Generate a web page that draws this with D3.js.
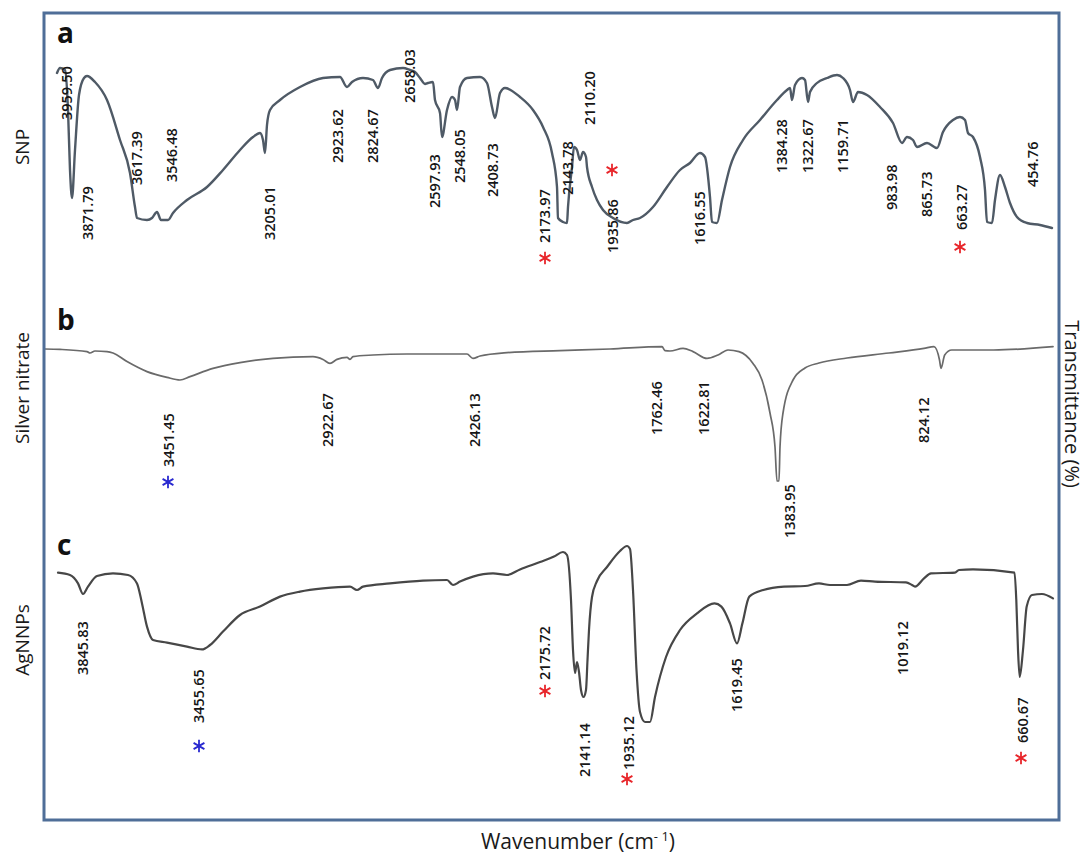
<!DOCTYPE html>
<html>
<head>
<meta charset="utf-8">
<script src="https://cdn.jsdelivr.net/npm/d3@7"></script>
<style>
  body { margin: 0; background: #fff; }
  svg { display: block; }
  text { font-family: "Open Sans", Lato, "Liberation Sans", sans-serif; }
</style>
</head>
<body>
<svg id="chart" width="1087" height="857"></svg>
<script>
// FTIR traces: [trace position, transmittance (arb. %)]
const snpTrace = [
  [12,88.5],[15,91],[20,90],[23,70],[25,40],[27,26],[30,50],[34,77.5],[39,86],[42,87],
  [50,84],[62,75],[75,55],[85,38.5],[90,21.5],[92,16],[102,15],[107,16],[112,19],[116,15],
  [123,15],[128,18.5],[142,25],[162,31.5],[178,40],[195,50],[208,56.5],[215,58.5],[218,55],[220,48.5],
  [222,62.5],[225,70],[235,75],[255,81.5],[278,86],[295,86.5],[302,81.5],[307,84],[318,86],[328,85],
  [333,81],[337,86],[345,90],[358,91],[365,90],[370,89],[375,86],[380,83],[383,83.5],[388,84],
  [390,75],[395,68.5],[397,56.5],[402,70],[407,76.5],[410,75],[412,70],[415,81.5],[422,86],[435,86.5],
  [442,83.5],[447,71.5],[450,66],[455,78.5],[460,81],[475,76.5],[488,70],[498,61.5],[507,48.5],[512,31.5],
  [513,16],[518,14],[522,13.5],[523,21.5],[527,41.5],[529,51.5],[532,50],[535,45],[538,49],[541,46.5],
  [542,41.5],[547,31.5],[552,25],[558,20],[568,16],[582,13.5],[588,15],[595,16],[608,21.5],[622,31.5],
  [635,40],[645,43.5],[655,48.5],[660,46.5],[665,26.5],[667,14],[672,13.5],[677,25],[685,41.5],[698,55],
  [715,65],[732,75],[742,80],[745,81],[747,75],[750,82.5],[757,86],[760,85],[763,74],[765,79],
  [772,83.5],[782,86],[792,87.5],[798,86],[805,80],[808,74],[813,79],[822,77.5],[835,71.5],[848,63.5],
  [857,53.5],[862,56.5],[868,55],[872,51.5],[882,53.5],[892,51],[898,59],[908,65],[915,66.5],[920,65],
  [923,58.5],[928,56.5],[935,46.5],[940,30],[942,14],[947,13.5],[950,25],[955,37.5],[960,31.5],[965,23.5],
  [972,16.5],[982,13.5],[995,12.5],[1007,11]
];

const silverNitrateTrace = [
  [0,75.5],[15,75.3],[42,74.2],[45,73.5],[50,74.5],[62,74.2],[68,73.5],[82,69.2],[102,64.2],[122,61.3],
  [135,60],[145,61.7],[168,65.8],[195,68.7],[228,70.8],[268,71.7],[278,70.3],[285,68.3],[292,70.3],[302,71.3],
  [305,70.3],[308,71.7],[328,72.5],[362,73],[422,73],[428,70.8],[435,72],[462,73.7],[515,74.7],[565,75.5],
  [617,76.7],[620,74.7],[625,74.5],[638,75.8],[648,74.2],[662,70.8],[673,72.5],[683,75],[694,74.2],[708,68.3],
  [717,60],[725,43.5],[730,26.5],[732,9.5],[734,9.5],[735,26.5],[738,43.5],[748,60],[760,66],[774,68.5],
  [802,71],[844,73.5],[879,75.8],[889,76.7],[894.5,70],[896,65.8],[899.7,72.5],[906.7,75],[948.6,75],[1008,76.7]
];

const agnpTrace = [
  [13,93.7],[25,92.5],[33,88.3],[38,83],[43,86.7],[52,92],[68,93.3],[83,92.5],[92,88.3],[97,78.3],
  [102,66.7],[108,60],[122,58.7],[142,56.7],[157,55.3],[165,57.5],[178,64.2],[195,72.5],[215,76.7],[235,81.7],
  [255,84.2],[278,85.8],[305,86.7],[312,85],[318,86.7],[345,88.3],[378,89.7],[402,90],[408,87.5],[415,89.2],
  [428,91.7],[448,93.3],[462,92.5],[475,95.3],[495,99],[509,101.7],[518,104],[522,102.5],[526,80],[528,55],
  [530,43.5],[532,49],[534,44],[536,35],[538.5,31.5],[541,35],[542.5,50],[544,65],[547,81.5],[552,89.5],
  [562,96.5],[575,104.5],[582,107],[585,105.5],[588,85],[591.5,45],[595,24],[600,19],[605,19],[610,31.5],
  [621,51.5],[635,65],[652,73.3],[669.5,78.3],[676.4,76.7],[685,68.3],[692,58.3],[697.4,68.3],[704.3,81.7],[718.3,85],
  [739,86.7],[760,87],[774,88.3],[785,87.5],[802,87.5],[816,89.7],[830,89.2],[861,88.8],[867,87.5],[870,86.7],
  [879,90.8],[886,93.3],[910,93.7],[914,95],[928,95.3],[969.5,93.7],[971.3,80],[973,55],[974.7,41.5],[978,55],
  [981.7,76.7],[987,82.5],[997,83],[1008,80.8]
];

// Peak annotations: [wavenumber label, trace position, level of label foot]
const snpPeaks = [
  ["3959.50",22,65],["3871.79",43,5],["3617.39",92,32.5],["3546.48",127,34],["3205.01",225,5],
  ["2923.62",293,43.5],["2824.67",328,43.5],["2658.03",365,73.5],["2597.93",390,21],["2548.05",415,33.5],
  ["2408.73",448,26.5],["2173.97",500,3.5],["2143.78",523,27.5],["2110.20",545,62.5],["1935.86",568,-1.5],
  ["1616.55",655,2.5],["1384.28",737,38.5],["1322.67",763,38.5],["1159.71",798,38.5],["983.98",847,20],
  ["865.73",882,16.5],["663.27",917,10],["454.76",988,31.5]
];
const silverNitratePeaks = [
  ["3451.45",124,16.5],["2922.67",283,26.5],["2426.13",430,26.5],["1762.46",612,32.5],
  ["1622.81",659,32.5],["1383.95",745,-19],["824.12",879,28.5]
];
const agnpPeaks = [
  ["3845.83",38,42.5],["3455.65",154,18.5],["2175.72",500,40],["2141.14",540,-8.5],
  ["1935.12",584,-5],["1619.45",692,24],["1019.12",858,42.5],["660.67",978,8.5]
];

// Band markers: [trace position, level, group]  (S = shared with SNP, A = shared with AgNO3)
const snpMarks = [[500,-4,"S"],[567,40,"S"],[915,1.5,"S"]];
const silverNitrateMarks = [[123,9,"A"]];
const agnpMarks = [[154,7,"A"],[500,34.5,"S"],[582,-9.5,"S"],[976,1,"S"]];

const svg = d3.select("#chart");
const W = 1087, H = 857;
svg.append("rect").attr("width", W).attr("height", H).attr("fill", "#fff");

const frame = { left: 44, top: 13, right: 1059, bottom: 820 };
const x = d3.scaleLinear().domain([0, 1010]).range([45, 1055]);

const panels = [
  { letter: "a", name: "SNP", trace: snpTrace, peaks: snpPeaks, marks: snpMarks,
    y: d3.scaleLinear().domain([0, 100]).range([250, 50]),
    color: "#4f5a66", width: 2.4, letterY: 43, nameY: 147 },
  { letter: "b", name: "Silver nitrate", trace: silverNitrateTrace, peaks: silverNitratePeaks, marks: silverNitrateMarks,
    y: d3.scaleLinear().domain([0, 100]).range([500, 300]),
    color: "#6a6a6a", width: 1.7, letterY: 330, nameY: 388 },
  { letter: "c", name: "AgNNPs", trace: agnpTrace, peaks: agnpPeaks, marks: agnpMarks,
    y: d3.scaleLinear().domain([0, 110]).range([760, 540]),
    color: "#474747", width: 2.2, letterY: 555, nameY: 640 }
];

const markColor = { S: "#e8262b", A: "#2a2ad0" };
const asterisk = d3.symbol().type(d3.symbolAsterisk || d3.symbolCross).size(110);

panels.forEach(p => {
  const g = svg.append("g").attr("class", "panel-" + p.letter);

  const line = d3.line()
    .x(d => x(d[0]))
    .y(d => p.y(d[1]))
    .curve(d3.curveMonotoneX);

  g.append("path")
    .datum(p.trace)
    .attr("d", line)
    .attr("fill", "none")
    .attr("stroke", p.color)
    .attr("stroke-width", p.width)
    .attr("stroke-linejoin", "round")
    .attr("stroke-linecap", "round");

  g.selectAll("text.peak")
    .data(p.peaks)
    .join("text")
    .attr("class", "peak")
    .attr("transform", d => `translate(${x(d[1])},${p.y(d[2])}) rotate(-90)`)
    .attr("dy", "0.36em")
    .attr("text-anchor", "start")
    .attr("font-size", 14.5)
    .attr("font-weight", 600)
    .attr("fill", "#161616")
    .text(d => d[0]);

  g.selectAll("path.mark")
    .data(p.marks)
    .join("path")
    .attr("class", "mark")
    .attr("transform", d => `translate(${x(d[0])},${p.y(d[1])})`)
    .attr("d", asterisk)
    .attr("fill", "none")
    .attr("stroke", d => markColor[d[2]])
    .attr("stroke-width", 1.8);

  // panel letter
  svg.append("text")
    .attr("x", 57).attr("y", p.letterY)
    .attr("font-size", 28).attr("font-weight", 700)
    .attr("fill", "#111")
    .text(p.letter);

  // sample name on the left
  svg.append("text")
    .attr("transform", `translate(22,${p.nameY}) rotate(-90)`)
    .attr("dy", "0.36em")
    .attr("text-anchor", "middle")
    .attr("font-size", 19)
    .attr("fill", "#1a1a1a")
    .text(p.name);
});

// frame
svg.append("rect")
  .attr("x", frame.left).attr("y", frame.top)
  .attr("width", frame.right - frame.left)
  .attr("height", frame.bottom - frame.top)
  .attr("fill", "none")
  .attr("stroke", "#4f6e98")
  .attr("stroke-width", 3);

// axis titles
svg.append("text")
  .attr("transform", "translate(1072,404) rotate(90)")
  .attr("dy", "0.33em")
  .attr("text-anchor", "middle")
  .attr("font-size", 20)
  .attr("fill", "#1a1a1a")
  .text("Transmittance (%)");

const xt = svg.append("text")
  .attr("x", 578).attr("y", 849)
  .attr("text-anchor", "middle")
  .attr("font-size", 21)
  .attr("fill", "#1a1a1a");
xt.append("tspan").text("Wavenumber (cm");
xt.append("tspan").attr("font-size", 13).attr("dy", -8).text("-");
xt.append("tspan").attr("font-size", 13).text("\u00a01");
xt.append("tspan").attr("dy", 8).text(")");
</script>
</body>
</html>
